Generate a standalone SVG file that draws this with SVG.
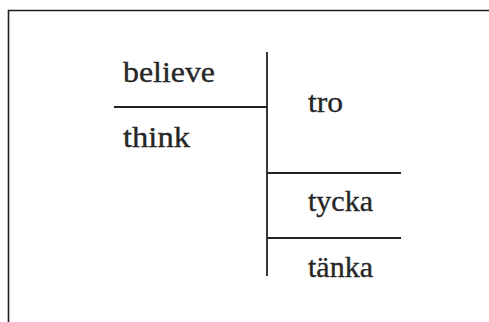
<svg xmlns="http://www.w3.org/2000/svg" width="489" height="322" viewBox="0 0 489 322">
  <style>
    .frame { fill: none; stroke: #1e1e1e; stroke-width: 1.6; }
    .rule { stroke: #222; stroke-width: 1.8; fill: none; }
    .word { font-family: "Liberation Serif", "DejaVu Serif", serif; font-size: 30px; fill: #262626; stroke: #262626; stroke-width: 0.35; }
  </style>
  <rect width="489" height="322" fill="#ffffff"/>
  <!-- page frame: top and left edges -->
  <path class="frame" d="M8.5 340 V10.5 H500"/>

  <g id="connectors">
    <line class="rule" x1="267" y1="52" x2="267" y2="276"/>
    <line class="rule" x1="114" y1="107" x2="267" y2="107"/>
    <line class="rule" x1="267" y1="173" x2="401" y2="173"/>
    <line class="rule" x1="267" y1="238" x2="401" y2="238"/>
  </g>

  <g id="believe"><text class="word" x="123" y="82" textLength="92" lengthAdjust="spacingAndGlyphs">believe</text></g>
  <g id="think"><text class="word" x="123" y="147" textLength="67" lengthAdjust="spacingAndGlyphs">think</text></g>
  <g id="tro"><text class="word" x="308" y="112" textLength="35" lengthAdjust="spacingAndGlyphs">tro</text></g>
  <g id="tycka"><text class="word" x="308" y="211" textLength="65" lengthAdjust="spacingAndGlyphs">tycka</text></g>
  <g id="tanka"><text class="word" x="308" y="277" textLength="65" lengthAdjust="spacingAndGlyphs">tänka</text></g>
</svg>
